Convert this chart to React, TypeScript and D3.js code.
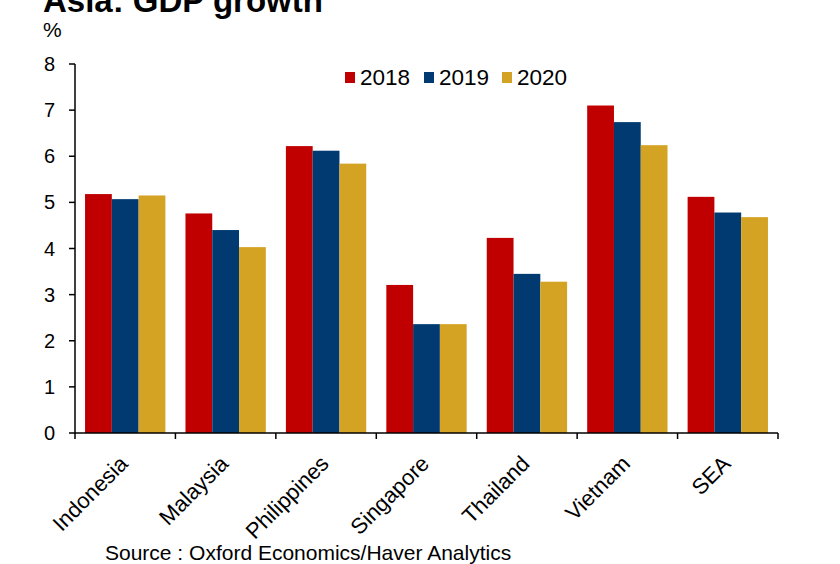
import React from "react";
import * as d3 from "d3";

const categories = ["Indonesia", "Malaysia", "Philippines", "Singapore", "Thailand", "Vietnam", "SEA"];
const seriesNames = ["2018", "2019", "2020"];
const values2018 = [5.18, 4.76, 6.22, 3.21, 4.23, 7.1, 5.12];
const values2019 = [5.07, 4.4, 6.12, 2.36, 3.45, 6.74, 4.78];
const values2020 = [5.15, 4.03, 5.84, 2.36, 3.28, 6.24, 4.68];
const yTicks = [0, 1, 2, 3, 4, 5, 6, 7, 8];
const colors = ["#C00000", "#003A70", "#D4A324"];

const W = 840;
const H = 564;
const left = 75;
const right = 778;
const top = 64;
const bottom = 433;
const font = "Liberation Sans, Arial, sans-serif";

export default function App() {
  const series = [values2018, values2019, values2020];
  const x = d3.scaleBand<string>().domain(categories).range([left, right]).paddingInner(0.2).paddingOuter(0.1);
  const xi = d3.scaleBand<string>().domain(seriesNames).range([0, x.bandwidth()]);
  const y = d3.scaleLinear().domain([0, 8]).range([bottom, top]);
  const step = x.step();
  const catTicks = d3.range(categories.length + 1).map((i) => left + i * step);

  return (
    <svg width={W} height={H} style={{ position: "absolute", left: 0, top: 0 }} fontFamily={font}>
      <rect width={W} height={H} fill="#fff" />
      <text x={43} y={12} fontSize={33} fontWeight="bold" fill="#000">Asia: GDP growth</text>
      <text x={43} y={37} fontSize={21} fill="#000">%</text>
      {categories.map((c, ci) =>
        series.map((s, si) => (
          <rect
            key={c + si}
            x={(x(c) as number) + (xi(seriesNames[si]) as number)}
            y={y(s[ci])}
            width={xi.bandwidth()}
            height={y(0) - y(s[ci])}
            fill={colors[si]}
          />
        ))
      )}
      <line x1={left} x2={left} y1={top} y2={bottom} stroke="#000" strokeWidth={1.5} />
      <line x1={left} x2={right} y1={bottom} y2={bottom} stroke="#000" strokeWidth={1.5} />
      {yTicks.map((t) => (
        <g key={t}>
          <line x1={left - 6} x2={left} y1={y(t)} y2={y(t)} stroke="#000" strokeWidth={1.5} />
          <text x={55} y={y(t) + 7} fontSize={20} textAnchor="end" fill="#000">{t}</text>
        </g>
      ))}
      {catTicks.map((t, i) => (
        <line key={i} x1={t} x2={t} y1={bottom} y2={bottom + 6} stroke="#000" strokeWidth={1.5} />
      ))}
      {categories.map((c) => {
        const cx = (x(c) as number) + x.bandwidth() / 2 + 4;
        const cy = bottom + 32;
        return (
          <text key={c} x={cx} y={cy} fontSize={22} textAnchor="end" transform={`rotate(-45 ${cx} ${cy})`} fill="#000">
            {c}
          </text>
        );
      })}
      {seriesNames.map((n, i) => {
        const lx = [345, 424, 502][i];
        return (
          <g key={n}>
            <rect x={lx} y={72} width={10} height={11} fill={colors[i]} />
            <text x={lx + 15} y={85} fontSize={22.5} fill="#000">{n}</text>
          </g>
        );
      })}
      <text x={105} y={560} fontSize={21} fill="#000">Source : Oxford Economics/Haver Analytics</text>
    </svg>
  );
}
